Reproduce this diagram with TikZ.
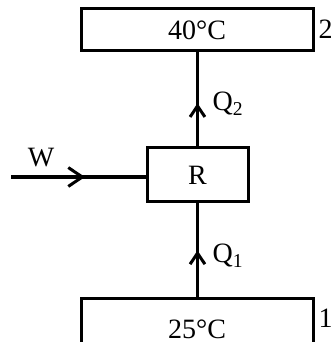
\documentclass[tikz,border=0pt]{standalone}
\usepackage{fontspec}
\setmainfont{Liberation Serif}
\usetikzlibrary{arrows.meta,decorations.markings}
\begin{document}
\begin{tikzpicture}[x=1pt,y=1pt,
  line width=3.2pt,
  big/.style={font=\fontsize{28}{28}\selectfont},
  box/.style={draw,big,line width=3pt,minimum width=232pt,inner sep=0pt},
  engine/.style={draw,big,line width=3pt,minimum width=101pt,minimum height=54pt,inner sep=0pt},
  lbl/.style={big,inner sep=0pt},
  midarrow/.style 2 args={postaction={decorate},decoration={markings,
    mark=at position #1 with {\arrow[line width=3pt]{Straight Barb[length=#2,width=1.35*#2]}}}}
]
\useasboundingbox (0,0) rectangle (331,342);
\clip (0,0) rectangle (331,342);
% reservoirs and refrigerator
\node[box,minimum height=42pt] (hot) at (197,312) {40°C};
\node[engine] (R) at (197.5,167) {R};
\node[box,minimum height=60pt] (cold) at (197,13) {25°C};
% reservoir numbers
\node[lbl,anchor=west] (n2) at (317,313) {2};
\node[lbl,anchor=west] (n1) at (317,24) {1};
% heat flows
\draw[midarrow={0.5}{11pt}] (cold.north -| R.south) -- (R.south);
\draw[midarrow={0.46}{11pt}] (R.north) -- (hot.south -| R.north);
\node[lbl,anchor=west] (q1) at (211,86) {Q\textsubscript{1}};
\node[lbl,anchor=west] (q2) at (211,238) {Q\textsubscript{2}};
% work input
\coordinate (wstart) at (11,165);
\draw[midarrow={0.55}{14pt}] (wstart) -- (R.west |- wstart);
\node[lbl] (w) at (41,184) {W};
\end{tikzpicture}
\end{document}
